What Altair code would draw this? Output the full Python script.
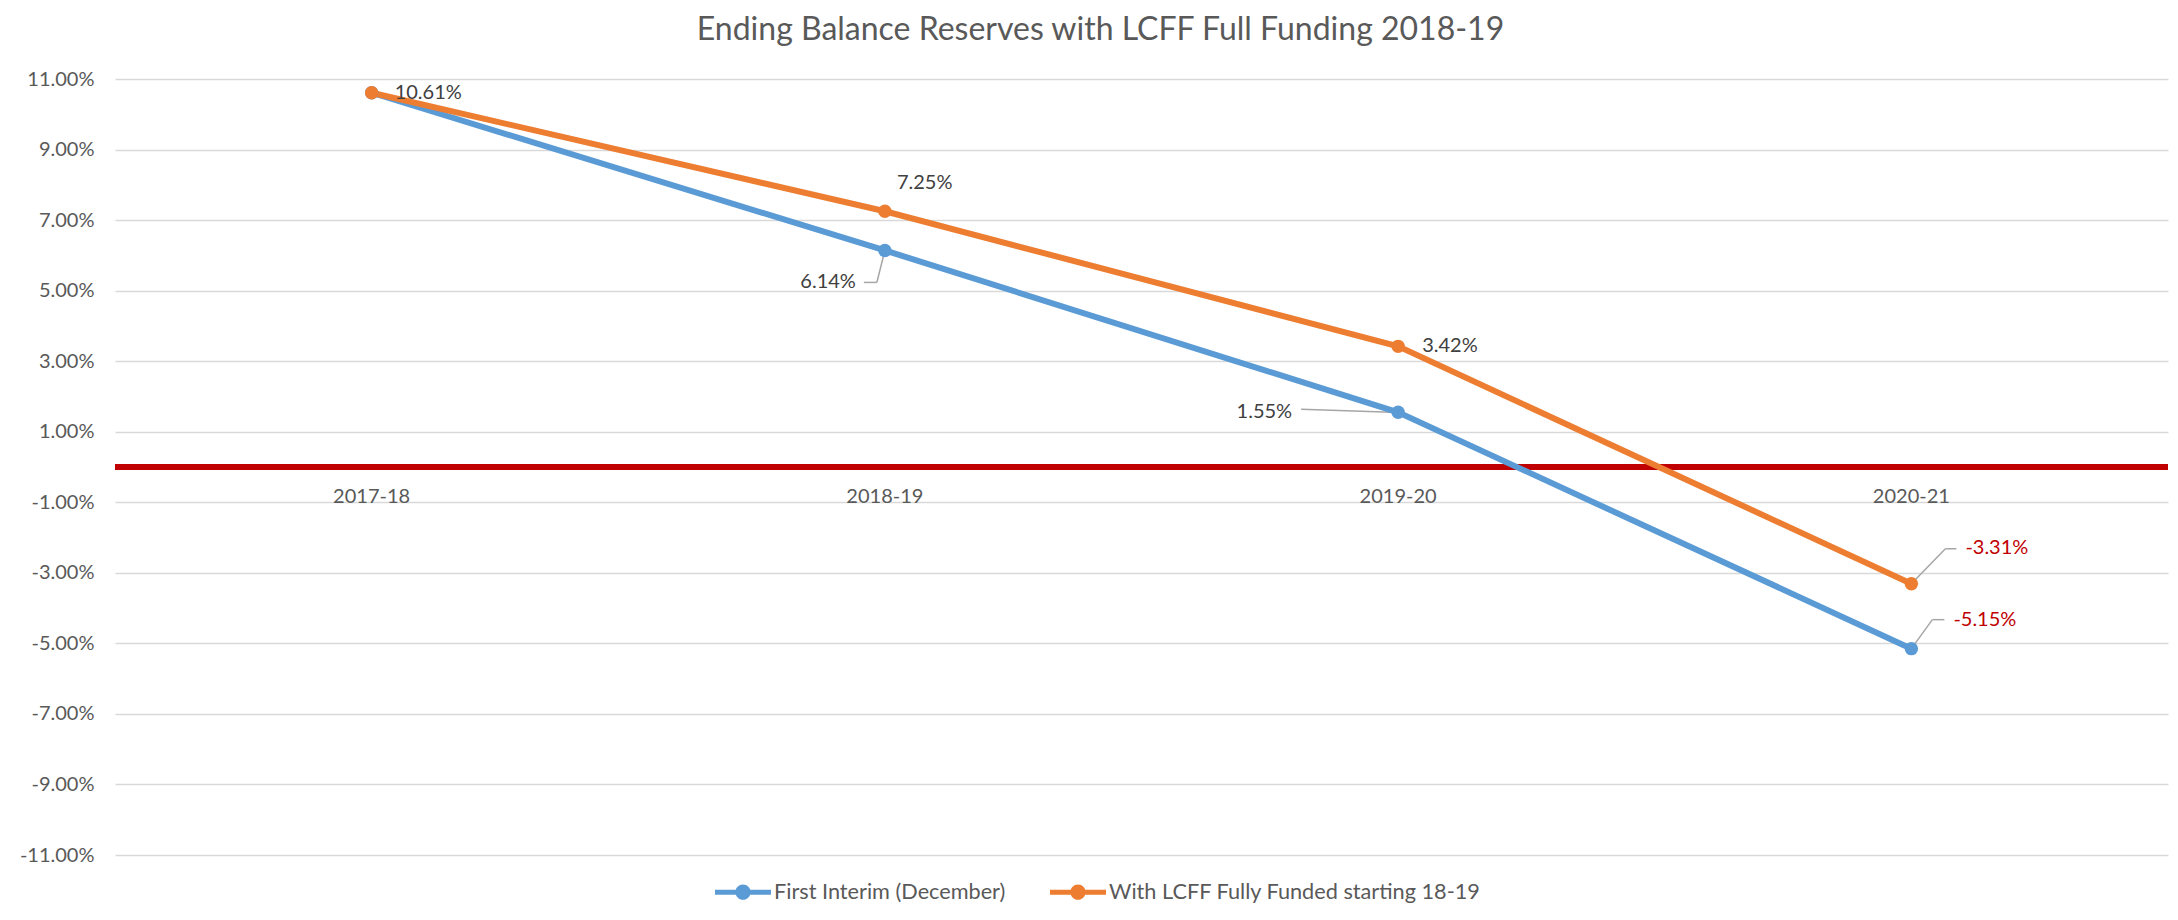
import altair as alt
import pandas as pd

categories = ["2017-18", "2018-19", "2019-20", "2020-21"]
first_interim = [10.61, 6.14, 1.55, -5.15]
lcff_full = [10.61, 7.25, 3.42, -3.31]
series_names = ["First Interim (December)", "With LCFF Fully Funded starting 18-19"]
series_colors = ["#5B9BD5", "#ED7D31"]
y_ticks = [-11, -9, -7, -5, -3, -1, 1, 3, 5, 7, 9, 11]
title_text = "Ending Balance Reserves with LCFF Full Funding 2018-19"

rows = []
for name, vals in zip(series_names, [first_interim, lcff_full]):
    for c, v in zip(categories, vals):
        rows.append({"series": name, "category": c, "value": v})
df = pd.DataFrame(rows)
cat_df = pd.DataFrame({"category": categories, "z": [0] * len(categories)})
one_df = pd.DataFrame({"z": [0]})

FONT = "Lato"
TEXT = "#595959"
LABEL = "#404040"
NEG = "#C00000"
PCT = "replace(format(datum.value, '.2f'), '\u2212', '-') + '%'"

x_enc = alt.X("category:N", sort=categories,
              scale=alt.Scale(type="point", padding=0.5, domain=categories),
              axis=None)
y_scale = alt.Scale(domain=[-11, 11], nice=False, zero=False)
y_enc = alt.Y("value:Q", scale=y_scale,
              axis=alt.Axis(values=y_ticks, labelExpr=PCT,
                            grid=True, gridColor="#D9D9D9", gridWidth=1.3,
                            domain=False, ticks=False, tickSize=0,
                            labelPadding=21, labelFontSize=20, labelColor=TEXT,
                            labelFont=FONT, title=None))
color_scale = alt.Scale(domain=series_names, range=series_colors)

legend_symbol = ("M-1,-0.09L1,-0.09L1,0.09L-1,0.09Z "
                 "M0.27,0A0.27,0.27 0 1,1 -0.27,0A0.27,0.27 0 1,1 0.27,0Z")
legend = alt.Legend(orient="none", legendX=600, legendY=785,
                    direction="horizontal", title=None,
                    symbolType=legend_symbol, symbolSize=3136,
                    symbolStrokeWidth=0, symbolOpacity=1, labelFontSize=21.7,
                    labelFont=FONT, labelColor=TEXT, labelLimit=1000,
                    columnPadding=44, labelOffset=3, padding=0)

base = alt.Chart(df)

zero_rule = alt.Chart(one_df).mark_rule(color="#C00000", strokeWidth=6).encode(
    y=alt.Y("z:Q", scale=y_scale))

cat_labels = alt.Chart(cat_df).mark_text(
    dy=30, fontSize=20, color=TEXT, font=FONT, baseline="middle").encode(
    x=x_enc, y=alt.Y("z:Q", scale=y_scale), text="category:N")

lines = base.mark_line(strokeWidth=6).encode(
    x=x_enc, y=y_enc,
    color=alt.Color("series:N", scale=color_scale, legend=legend))

points = base.mark_circle(size=180, opacity=1).encode(
    x=x_enc, y=alt.Y("value:Q", scale=y_scale),
    color=alt.Color("series:N", scale=color_scale, legend=legend))


def pick(si, cat):
    return base.transform_filter(
        (alt.datum.series == series_names[si]) & (alt.datum.category == cat))


def leader(si, cat, x0, y0, x1, y1):
    return pick(si, cat).mark_rule(
        xOffset=x0, yOffset=y0, x2Offset=x1, y2Offset=y1,
        color="#A6A6A6", strokeWidth=1.5).encode(
        x=x_enc, x2="category:N",
        y=alt.Y("value:Q", scale=y_scale), y2="value:Q")


def label(si, cat, dx, dy, align, color):
    return pick(si, cat).transform_calculate(lbl=PCT).mark_text(
        dx=dx, dy=dy, align=align, baseline="middle", fontSize=20,
        font=FONT, color=color).encode(
        x=x_enc, y=alt.Y("value:Q", scale=y_scale), text="lbl:N")


leaders = [
    leader(0, "2018-19", 0, 0, -8, 32),
    leader(0, "2018-19", -8, 32, -21, 32),
    leader(0, "2019-20", -97, -3, -7, 0),
    leader(1, "2020-21", 0, 0, 34, -35),
    leader(1, "2020-21", 34, -35, 45, -35),
    leader(0, "2020-21", 0, 0, 21, -29),
    leader(0, "2020-21", 21, -29, 33, -29),
]

labels = [
    label(1, "2017-18", 23, 0, "left", LABEL),
    label(1, "2018-19", 12, -28, "left", LABEL),
    label(1, "2019-20", 24, 0, "left", LABEL),
    label(1, "2020-21", 54, -36, "left", NEG),
    label(0, "2018-19", -29, 32, "right", LABEL),
    label(0, "2019-20", -106, 0, "right", LABEL),
    label(0, "2020-21", 42, -29, "left", NEG),
]

chart = alt.layer(zero_rule, cat_labels, *leaders, lines, points, *labels).properties(
    width=2053, height=776,
    padding={"left": 107, "top": 71, "right": 2, "bottom": 52},
    autosize=alt.AutoSizeParams(type="none"),
    title=alt.TitleParams(text=title_text, font=FONT, fontSize=32,
                          fontWeight="normal", color=TEXT, anchor="middle",
                          frame="group", dx=-41, offset=22),
).configure_view(stroke=None)

chart.save("out.html", embed_options={"renderer": "svg", "actions": False})
